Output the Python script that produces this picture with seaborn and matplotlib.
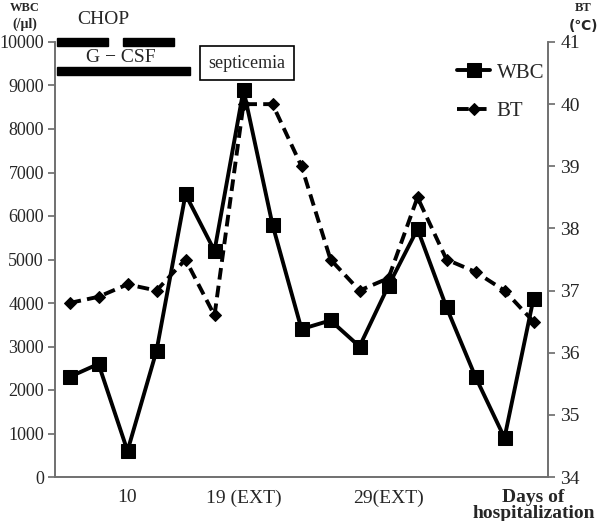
import numpy as np
import pandas as pd
import seaborn as sns
import matplotlib
matplotlib.use('Agg')
import matplotlib.pyplot as plt
from matplotlib.patches import Rectangle

days = list(range(17))
wbc = [2300, 2600, 600, 2900, 6500, 5200, 8900, 5800, 3400, 3600, 3000, 4400, 5700, 3900, 2300, 900, 4100]
bt = [36.8, 36.9, 37.1, 37.0, 37.5, 36.6, 40.0, 40.0, 39.0, 37.5, 37.0, 37.2, 38.5, 37.5, 37.3, 37.0, 36.5]
tick_pos = [2, 6, 11, 16]
tick_labels = ['10', '19 (EXT)', '29(EXT)', 'Days of\nhospitalization']

sns.set_theme(style='white')
plt.rcParams['font.family'] = ['Liberation Serif', 'DejaVu Serif', 'DejaVu Sans']

df = pd.DataFrame({'day': days, 'WBC': wbc, 'BT': bt})

fig = plt.figure(figsize=(6, 5.21), dpi=100)
ax = fig.add_axes([55/600, 1-477/521, (548-55)/600, (477-42)/521])
ax2 = ax.twinx()

sns.lineplot(data=df, x='day', y='WBC', ax=ax, color='black', linewidth=2.8,
             marker='s', markersize=10, markeredgecolor='black', label='WBC', legend=False)
sns.lineplot(data=df, x='day', y='BT', ax=ax2, color='black', linewidth=2.8,
             linestyle=(0, (3, 1.6)), marker='D', markersize=6.5, markeredgecolor='black',
             label='BT', legend=False)

ax.set_xlim(-0.5, 16.5)
ax.set_ylim(0, 10000)
ax2.set_ylim(34, 41)
ax.set_yticks(range(0, 10001, 1000))
ax2.set_yticks(range(34, 42))
ax.set_xticks(tick_pos)
ax.set_xticklabels(tick_labels)
for lab in ax.get_xticklabels()[-1:]:
    lab.set_fontsize(9)
    lab.set_fontweight('bold')
    lab.set_linespacing(0.9)
ax.set_xlabel('')
ax.set_ylabel('')
ax2.set_ylabel('')

for a in (ax, ax2):
    a.spines['top'].set_visible(False)
    for s in ['left', 'right', 'bottom']:
        a.spines[s].set_color('#707070')
        a.spines[s].set_linewidth(1.2)
ax.tick_params(axis='y', which='major', left=True, length=5, color='#707070', labelsize=13, pad=3)
ax2.tick_params(axis='y', which='major', right=True, length=5, color='#707070', labelsize=14, pad=4)
ax.tick_params(axis='x', which='major', bottom=False, labelsize=14, pad=3)

h1, l1 = ax.get_legend_handles_labels()
h2, l2 = ax2.get_legend_handles_labels()
ax2.legend(h1 + h2, l1 + l2, loc='upper right', bbox_to_anchor=(1.03, 0.995), frameon=False,
           fontsize=15, handlelength=1.6, labelspacing=0.9, handletextpad=0.3)

# axis headers
fig.text(25/600, 1-8/521, 'WBC', ha='center', va='center', fontsize=9, fontweight='bold')
fig.text(25/600, 1-24/521, '(/μl)', ha='center', va='center', fontsize=10, fontweight='bold')
fig.text(583/600, 1-8/521, 'BT', ha='center', va='center', fontsize=9, fontweight='bold')
fig.text(583/600, 1-26/521, '(℃)', ha='center', va='center', fontsize=10, fontweight='bold',
         family=['DejaVu Sans'])

# treatment bars
for x0, x1, yc in [(57, 108, 42), (123, 174, 42), (57, 190, 71)]:
    fig.patches.append(Rectangle((x0/600, 1-(yc+4)/521), (x1-x0)/600, 8/521,
                                 transform=fig.transFigure, color='black'))
fig.text(103/600, 1-20/521, 'CHOP', ha='center', va='center', fontsize=14)
fig.text(121/600, 1-57/521, 'G \u2212 CSF', ha='center', va='center', fontsize=14)
fig.text(247/600, 1-63/521, 'septicemia', ha='center', va='center', fontsize=13,
         bbox=dict(boxstyle='square,pad=0.45', facecolor='white', edgecolor='black', linewidth=1.2))

fig.savefig('out.png', dpi=100)
